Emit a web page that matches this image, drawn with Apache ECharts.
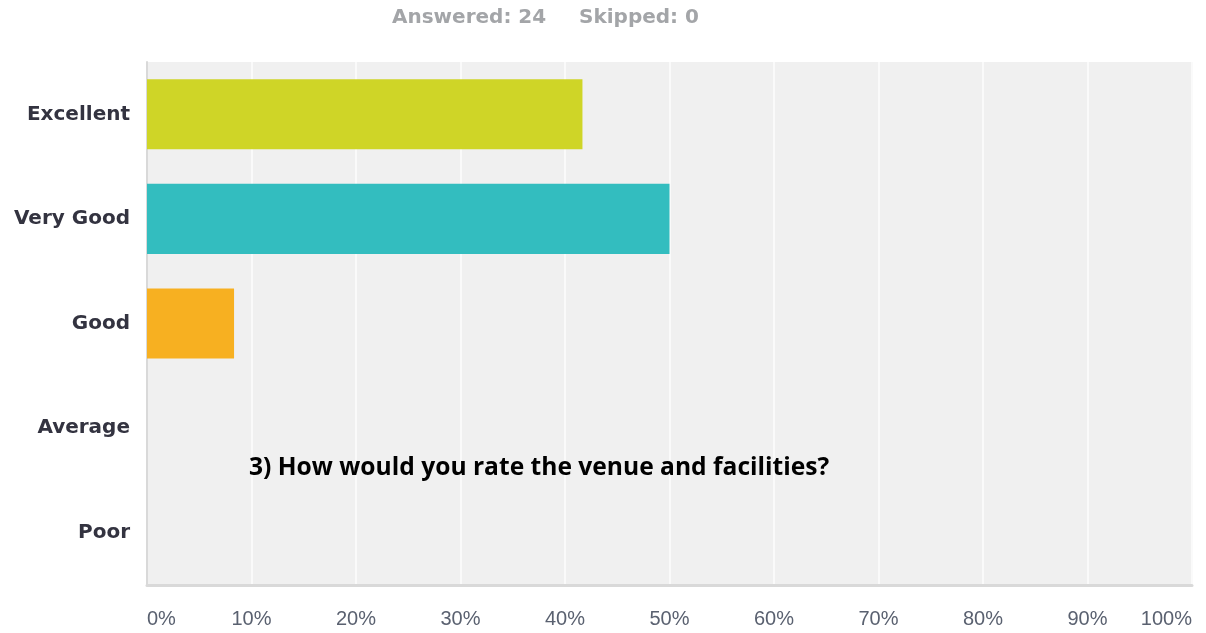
<!DOCTYPE html>
<html><head><meta charset="utf-8">
<script src="https://cdn.jsdelivr.net/npm/echarts@6/dist/echarts.min.js"></script>
<style>html,body{margin:0;padding:0;background:#fff}#c{width:1206px;height:633px}</style>
</head><body><div id="c"></div>
<script>
const categories = ['Excellent', 'Very Good', 'Good', 'Average', 'Poor'];
const percentValues = [41.67, 50.0, 8.33, 0, 0];
const barColors = ['#cfd527', '#33bdbf', '#f7b021', '#999999', '#999999'];
const answeredText = 'Answered: 24';
const skippedText = 'Skipped: 0';
const overlayTitle = '3) How would you rate the venue and facilities?';

const headerStyle = {fontFamily: 'DejaVu Sans', fontWeight: 'bold', fontSize: 20, color: '#a3a5a8'};
const chart = echarts.init(document.getElementById('c'), null, {renderer: 'canvas'});
chart.setOption({
  animation: false,
  backgroundColor: '#ffffff',
  title: [{
    text: answeredText, left: 387, top: 3, textStyle: headerStyle
  }, {
    text: skippedText, left: 574, top: 3, textStyle: headerStyle
  }, {
    text: overlayTitle, left: 244, top: 450,
    textStyle: {fontFamily: 'Open Sans', fontWeight: 'bold', fontSize: 24.6, color: '#000000'}
  }],
  grid: {left: 147, right: 14, top: 62, bottom: 48, show: true, backgroundColor: '#f0f0f0', borderWidth: 0},
  xAxis: {
    type: 'value', min: 0, max: 100, interval: 10,
    axisLine: {show: true, lineStyle: {color: '#d9d9d9', width: 3}},
    axisTick: {show: false},
    splitLine: {show: true, lineStyle: {color: '#fafafa', width: 2}},
    axisLabel: {formatter: '{value}%', margin: 24, fontFamily: 'Liberation Sans', fontSize: 20, color: '#5a6170',
      alignMinLabel: 'left', alignMaxLabel: 'right'}
  },
  yAxis: {
    type: 'category', data: categories, inverse: true,
    axisLine: {show: true, lineStyle: {color: '#d9d9d9', width: 2}},
    axisTick: {show: false},
    axisLabel: {margin: 17, fontFamily: 'DejaVu Sans', fontWeight: 'bold', fontSize: 20, color: '#333340'}
  },
  series: [{
    type: 'bar', barWidth: '67%',
    data: percentValues.map((v, i) => ({value: v, itemStyle: {color: barColors[i]}})),
    silent: true
  }]
});
</script></body></html>
